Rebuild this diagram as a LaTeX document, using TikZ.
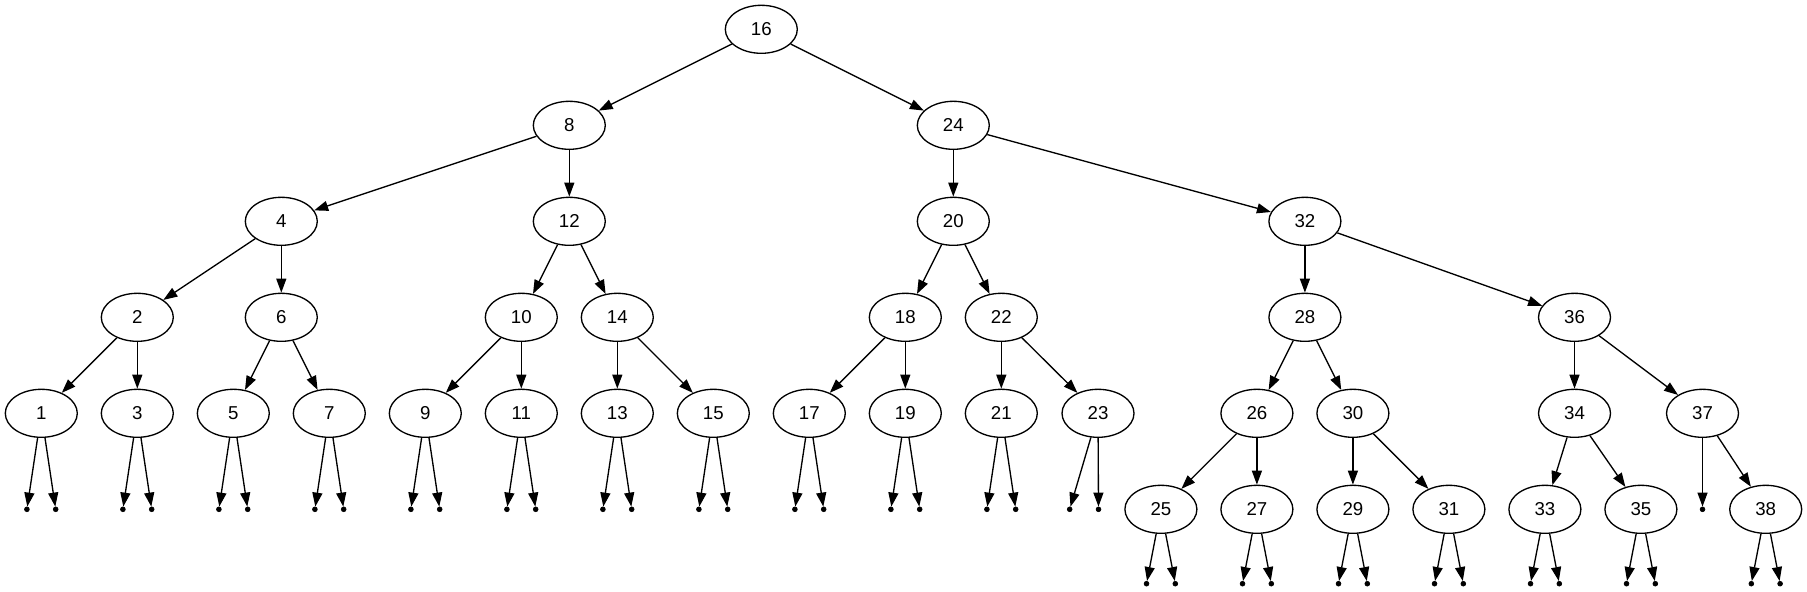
\documentclass[tikz,border=0pt]{standalone}
\usepackage{fontspec}
\setmainfont{Liberation Sans}
\usetikzlibrary{shapes.geometric,arrows.meta}
\tikzset{
  tn/.style={ellipse,draw,line width=1bp,minimum width=54bp,minimum height=36bp,inner sep=0pt,font=\fontsize{14bp}{16bp}\selectfont},
  pt/.style={circle,fill=black,draw=black,line width=0.5bp,minimum size=3.6bp,inner sep=0pt},
  ed/.style={line width=1bp,-{Triangle[length=10.5bp,width=7.5bp]}}
}
\begin{document}
\begin{tikzpicture}[x=0.75bp,y=-0.75bp]
\useasboundingbox (0,0) rectangle (1807,591);
% rows
\def\ra{29.3}\def\rb{125.3}\def\rc{221.3}\def\rd{317.3}\def\re{413.3}\def\rf{509.3}\def\rg{583.7}
\node[tn] (n16) at (761.3,\ra) {16};
\node[tn] (n8) at (569.3,\rb) {8};
\node[tn] (n24) at (953.3,\rb) {24};
\node[tn] (n4) at (281.3,\rc) {4};
\node[tn] (n12) at (569.3,\rc) {12};
\node[tn] (n20) at (953.3,\rc) {20};
\node[tn] (n32) at (1304.9,\rc) {32};
\node[tn] (n2) at (137.3,\rd) {2};
\node[tn] (n6) at (281.3,\rd) {6};
\node[tn] (n10) at (521.3,\rd) {10};
\node[tn] (n14) at (617.3,\rd) {14};
\node[tn] (n18) at (905.3,\rd) {18};
\node[tn] (n22) at (1001.3,\rd) {22};
\node[tn] (n28) at (1304.9,\rd) {28};
\node[tn] (n36) at (1574.5,\rd) {36};
\foreach \v/\x in {1/41.3,3/137.3,5/233.3,7/329.3,9/425.3,11/521.3,13/617.3,15/713.3,17/809.3,19/905.3,21/1001.3}{
  \node[tn] (n\v) at (\x,\re) {\v};
  \node[pt] (p\v a) at (\x-14.4,\rf) {};
  \node[pt] (p\v b) at (\x+14.4,\rf) {};
  \draw[ed] (n\v) -- (p\v a);
  \draw[ed] (n\v) -- (p\v b);
}
\node[tn] (n23) at (1098,\re) {23};
\node[pt] (p23a) at (1069.7,\rf) {};
\node[pt] (p23b) at (1098.5,\rf) {};
\draw[ed] (n23) -- (p23a);
\draw[ed] (n23) -- (p23b);
\node[tn] (n26) at (1256.9,\re) {26};
\node[tn] (n30) at (1352.9,\re) {30};
\node[tn] (n34) at (1574.5,\re) {34};
\node[tn] (n37) at (1702.5,\re) {37};
\node[pt] (p37) at (1702.5,\rf) {};
\draw[ed] (n37) -- (p37);
\foreach \v/\x in {25/1160.9,27/1256.9,29/1352.9,31/1448.9,33/1544.9,35/1640.9,38/1765.7}{
  \node[tn] (n\v) at (\x,\rf) {\v};
  \node[pt] (p\v a) at (\x-14.4,\rg) {};
  \node[pt] (p\v b) at (\x+14.4,\rg) {};
  \draw[ed] (n\v) -- (p\v a);
  \draw[ed] (n\v) -- (p\v b);
}
\foreach \a/\b in {16/8,16/24,8/4,8/12,24/20,24/32,4/2,4/6,12/10,12/14,20/18,20/22,32/28,32/36,
  2/1,2/3,6/5,6/7,10/9,10/11,14/13,14/15,18/17,18/19,22/21,22/23,28/26,28/30,36/34,36/37,
  26/25,26/27,30/29,30/31,34/33,34/35,37/38}{
  \draw[ed] (n\a) -- (n\b);
}
\end{tikzpicture}
\end{document}
